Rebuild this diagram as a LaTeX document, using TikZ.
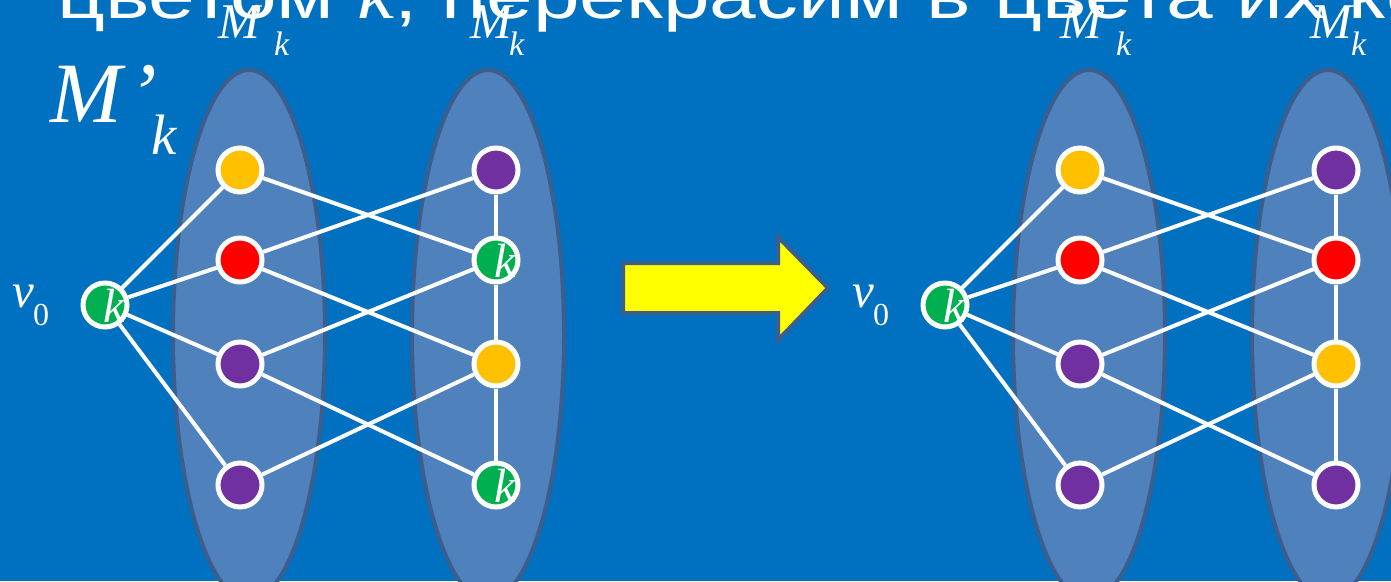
\documentclass[tikz,border=0pt]{standalone}
\usepackage{fontspec}
\setmainfont{Liberation Sans}
\newfontfamily\tms{Liberation Serif}
\definecolor{bg}{HTML}{0070C0}
\definecolor{ellfill}{HTML}{4F81BD}
\definecolor{ellline}{HTML}{3B5E8C}
\definecolor{gr}{HTML}{00B050}
\definecolor{rd}{HTML}{FF0000}
\definecolor{yl}{HTML}{FFC000}
\definecolor{pu}{HTML}{7030A0}
\definecolor{arrfill}{HTML}{FFFF00}
\pgfdeclarelayer{back}
\pgfdeclarelayer{edges}
\pgfsetlayers{back,edges,main}
\tikzset{
  vert/.style={circle, draw=white, line width=5pt, fill=#1, minimum size=44pt, inner sep=0pt},
  ktext/.style={text=white, font=\fontsize{48}{48}\selectfont\tms\itshape, inner sep=0pt, xshift=9pt, yshift=-1pt},
  klab/.style={label={[ktext]center:k}},
  edge/.style={draw=white, line width=4pt},
  ellip/.style={fill=ellfill, draw=ellline, line width=4pt},
  lbl/.style={anchor=base west, inner sep=0pt, text=white},
  bigarrow/.style={fill=arrfill, draw=ellline, line width=4pt, line join=miter},
}
\begin{document}
\begin{tikzpicture}[x=1pt,y=-1pt]
\useasboundingbox (0,0) rectangle (1391,581);
\clip (0,0) rectangle (1391,581);
\begin{pgfonlayer}{back}
\fill[bg] (0,0) rectangle (1391,581);
\draw[ellip] (249,335) ellipse [x radius=76, y radius=265];
\draw[ellip] (488,335) ellipse [x radius=76, y radius=265];
\draw[ellip] (1089,335) ellipse [x radius=76, y radius=265];
\draw[ellip] (1328,335) ellipse [x radius=76, y radius=265];
\end{pgfonlayer}

% title
\node[lbl, font=\fontsize{66}{66}\selectfont] (title) at (57,18) {\scalebox{1.27}[1]{цветом {\tms\itshape k}, перекрасим в цвета их ко}};

% big label
\node[lbl, font=\fontsize{86}{86}\selectfont\tms\itshape] (bigM) at (50,122) {M};
\node[lbl, font=\fontsize{86}{86}\selectfont\tms\itshape] (bigP) at (128,122) {’};
\node[lbl, font=\fontsize{57}{57}\selectfont\tms\itshape] (bigK) at (151,154) {k};

% set labels
\node[lbl, font=\fontsize{50}{50}\selectfont\tms\itshape] (m1) at (218,38) {M};
\node[lbl, font=\fontsize{50}{50}\selectfont\tms\itshape] (p1) at (245,38) {’};
\node[lbl, font=\fontsize{34}{34}\selectfont\tms\itshape] (k1) at (274,55) {k};
\node[lbl, font=\fontsize{50}{50}\selectfont\tms\itshape] (m2) at (470,38) {M};
\node[lbl, font=\fontsize{34}{34}\selectfont\tms\itshape] (k2) at (509,55) {k};
\node[lbl, font=\fontsize{50}{50}\selectfont\tms\itshape] (m3) at (1060,38) {M};
\node[lbl, font=\fontsize{50}{50}\selectfont\tms\itshape] (p3) at (1089,38) {’};
\node[lbl, font=\fontsize{34}{34}\selectfont\tms\itshape] (k3) at (1116,55) {k};
\node[lbl, font=\fontsize{50}{50}\selectfont\tms\itshape] (m4) at (1310,38) {M};
\node[lbl, font=\fontsize{34}{34}\selectfont\tms\itshape] (k4) at (1351,55) {k};

% v0 labels
\node[lbl, font=\fontsize{49}{49}\selectfont\tms\itshape] (va) at (12,307) {v};
\node[lbl, font=\fontsize{32}{32}\selectfont\tms] (za) at (33,325) {0};
\node[lbl, font=\fontsize{49}{49}\selectfont\tms\itshape] (vb) at (852,307) {v};
\node[lbl, font=\fontsize{32}{32}\selectfont\tms] (zb) at (873,325) {0};

% left graph
\node[vert=gr, klab] (av) at (105,305) {};
\node[vert=yl] (aA1) at (240,170) {};
\node[vert=rd] (aA2) at (240,260) {};
\node[vert=pu] (aA3) at (240,364) {};
\node[vert=pu] (aA4) at (240,485) {};
\node[vert=pu] (aB1) at (496,170) {};
\node[vert=gr, klab] (aB2) at (496,260) {};
\node[vert=yl] (aB3) at (496,364) {};
\node[vert=gr, klab] (aB4) at (496,485) {};

% right graph
\node[vert=gr, klab] (bv) at (945,305) {};
\node[vert=yl] (bA1) at (1080,170) {};
\node[vert=rd] (bA2) at (1080,260) {};
\node[vert=pu] (bA3) at (1080,364) {};
\node[vert=pu] (bA4) at (1080,485) {};
\node[vert=pu] (bB1) at (1336,170) {};
\node[vert=rd] (bB2) at (1336,260) {};
\node[vert=yl] (bB3) at (1336,364) {};
\node[vert=pu] (bB4) at (1336,485) {};

\begin{pgfonlayer}{edges}
\foreach \g in {a,b}{
  \draw[edge] (\g v) -- (\g A1);
  \draw[edge] (\g v) -- (\g A2);
  \draw[edge] (\g v) -- (\g A3);
  \draw[edge] (\g v) -- (\g A4);
  \draw[edge] (\g A1) -- (\g B2);
  \draw[edge] (\g A2) -- (\g B1);
  \draw[edge] (\g A2) -- (\g B3);
  \draw[edge] (\g A3) -- (\g B2);
  \draw[edge] (\g A3) -- (\g B4);
  \draw[edge] (\g A4) -- (\g B3);
  \draw[edge] (\g B1) -- (\g B2) -- (\g B3) -- (\g B4);
}
\end{pgfonlayer}

% arrow
\draw[bigarrow] (623,263) -- (778,263) -- (778,237) -- (828,288) -- (778,340) -- (778,313) -- (623,313) -- cycle;
\end{tikzpicture}
\end{document}
